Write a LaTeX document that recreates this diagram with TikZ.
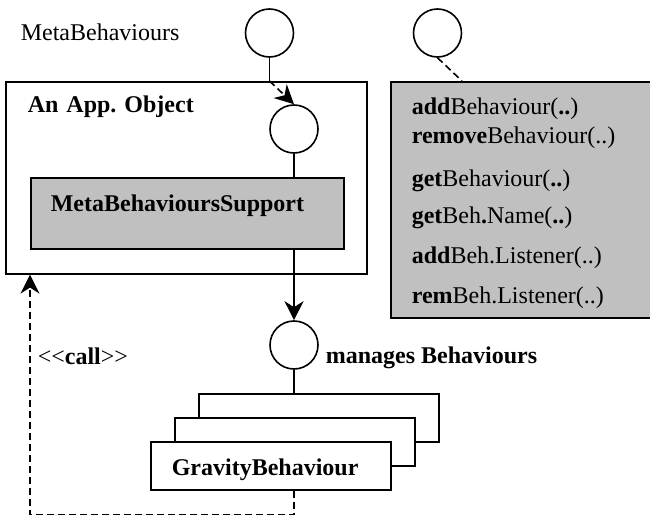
\documentclass[tikz,border=0pt]{standalone}
\usepackage{fontspec}
\setmainfont{Liberation Serif}
\usetikzlibrary{arrows.meta,positioning,calc}
\definecolor{behgray}{RGB}{192,192,192}
\newcommand\bigfont{\fontsize{24}{28}\selectfont}

\begin{document}
\begin{tikzpicture}[
    x=1pt,y=-1pt,
    line width=1.6pt,
    font=\bigfont,
    iface/.style={draw,circle,minimum size=48pt,inner sep=0pt},
    box/.style={draw,rectangle,anchor=north west,align=left,inner ysep=0pt,fill=white},
    gbox/.style={box,fill=behgray},
    lbl/.style={anchor=base west,inner sep=0pt},
    arr/.style={-{Stealth[length=19pt,width=19pt,inset=6pt]}},
    call/.style={arr,dash pattern=on 7pt off 4pt}
  ]
  \useasboundingbox (0,0) rectangle (650,516);

  % the application object and its support part
  \node[box,minimum width=361pt,inner xsep=22pt,text width=317pt,text height=31pt,text depth=161pt] (app) at (5,81) {\textbf{An App.\ Object}};
  \node[gbox,minimum width=313pt,inner xsep=20pt,text width=273pt,text height=34pt,text depth=37pt] (support) at (30,177) {\textbf{MetaBehavioursSupport}};

  % interface methods
  \node[gbox,minimum width=265pt,minimum height=236pt] (api) at (390,81) {};
  \foreach \y/\t [count=\i] in {115/{\textbf{add}Behaviour(\textbf{..})},
      143/{\textbf{remove}Behaviour(..)},
      186/{\textbf{get}Behaviour(\textbf{..})},
      223/{\textbf{get}Beh\textbf{.}Name(\textbf{..})},
      263/{\textbf{add}Beh.Listener(..)},
      303/{\textbf{rem}Beh.Listener(..)}}
    \node[lbl] (m\i) at (411,\y) {\t};

  % lollipops
  \node[iface] (ifTop) at (269.5,33) {};
  \node[iface] (ifApi) at (437.5,33) {};
  \node[iface] (ifIn) at (294,129) {};
  \node[iface] (ifMgr) at (294,345) {};

  % stacked behaviours
  \node[box,minimum width=240pt,minimum height=48pt] (back) at (198,393) {};
  \node[box,minimum width=240pt,minimum height=48pt] (mid) at (174,417) {};
  \node[box,minimum width=240pt,inner xsep=21pt,text width=198pt,text height=34pt,text depth=14pt] (front) at (150,441) {\textbf{GravityBehaviour}};

  \node[lbl] (title) at (20,41) {MetaBehaviours};
  \node[lbl] (mgrLbl) at (325,363) {\textbf{manages Behaviours}};
  \node[lbl] (callLbl) at (37,364) {\textless\kern0pt\textless\kern0pt\textbf{call}\kern0pt\textgreater\kern0pt\textgreater};

  \coordinate (entry) at (ifTop |- app.north);
  \coordinate (apiTop) at (462,81);
  \draw (ifTop) -- (entry);
  \draw[call] (entry) -- (ifIn.north);
  \draw[dash pattern=on 7pt off 4pt] (ifApi.south) -- (apiTop);
  \draw (ifIn) -- (ifIn |- support.north);
  \draw[arr] (ifIn |- support.south) -- (ifMgr.north);
  \draw (ifMgr) -- (ifMgr |- back.north);
  \draw[call] (front.south -| ifMgr) -- ++(0,24) -| (app.south -| support.west);
\end{tikzpicture}
\end{document}
